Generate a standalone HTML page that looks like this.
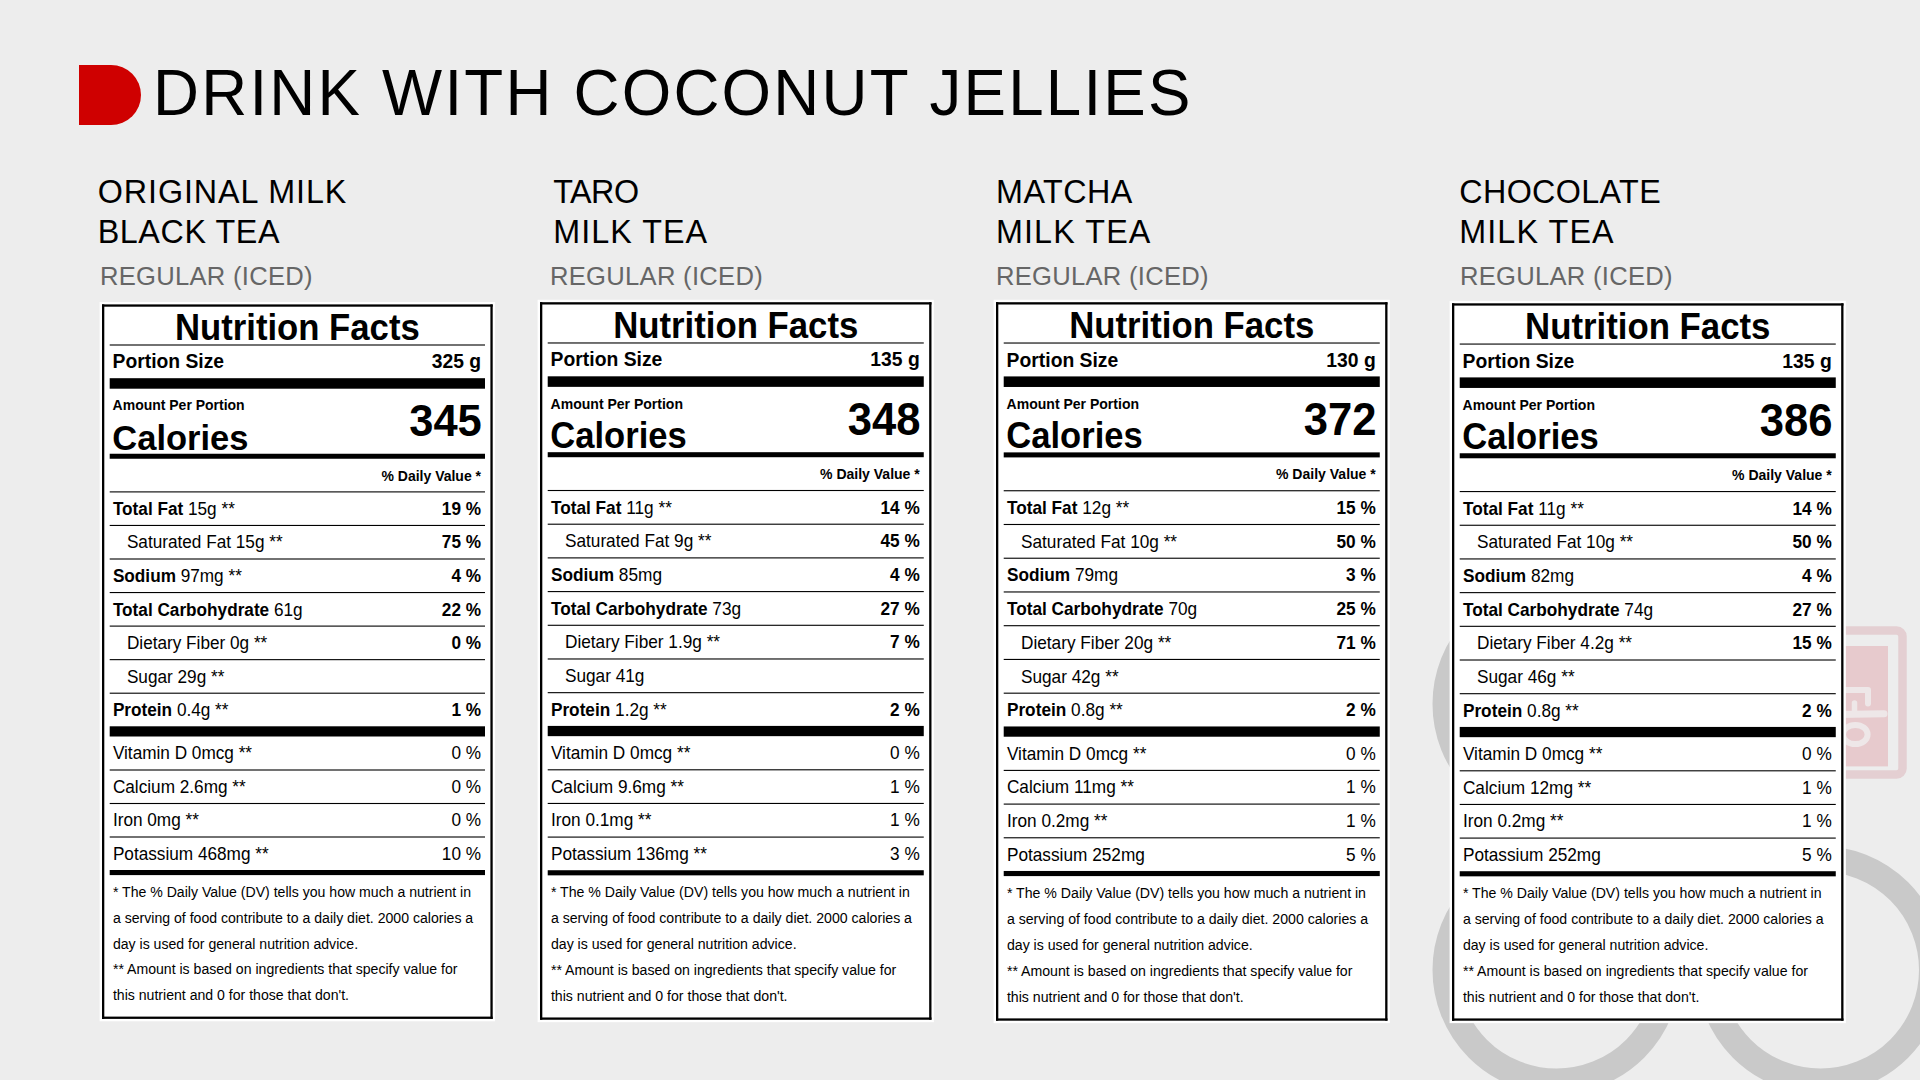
<!DOCTYPE html>
<html><head><meta charset="utf-8"><title>Drink with Coconut Jellies</title>
<style>
html,body{margin:0;padding:0;background:#ededed;width:1920px;height:1080px;overflow:hidden}
svg{display:block;font-family:"Liberation Sans",sans-serif}
</style></head><body>
<svg width="1920" height="1080" viewBox="0 0 1920 1080">
<rect width="1920" height="1080" fill="#ededed"/>
<circle cx="1556.5" cy="704" r="111.25" fill="none" stroke="#c9c9c9" stroke-width="25.5"/><circle cx="1556.5" cy="970" r="111.25" fill="none" stroke="#c9c9c9" stroke-width="25.5"/><circle cx="1820.5" cy="970" r="111.25" fill="none" stroke="#c9c9c9" stroke-width="25.5"/><rect x="1749" y="630.5" width="153.5" height="144" rx="6" fill="none" stroke="#e4cfd2" stroke-width="8.5"/><rect x="1757" y="646" width="131" height="120.4" fill="#e7cacd"/><g fill="none" stroke="#eee7e8" stroke-linecap="round" stroke-linejoin="round"><path d="M1838 690 H1868 V703.5" stroke-width="6"/><path d="M1854.5 703 V712" stroke-width="5.5"/><path d="M1838 714.5 L1884 713.8" stroke-width="7"/><ellipse cx="1855.3" cy="734.5" rx="12.3" ry="9.6" stroke-width="6"/></g><path d="M79 65 H111 A30 30 0 0 1 111 125 H79 Z" fill="#cf0000"/><text transform="translate(153.1,114.6) scale(1,1.015)" font-size="63.7" fill="#000" letter-spacing="2.2">DRINK WITH COCONUT JELLIES</text><text x="97.7" y="202.8" font-size="32.3" fill="#000" letter-spacing="0.93">ORIGINAL MILK</text><text x="97.7" y="243.0" font-size="32.3" fill="#000" letter-spacing="0.59">BLACK TEA</text><text x="99.9" y="284.8" font-size="25.6" fill="#666" letter-spacing="0.28">REGULAR (ICED)</text><text x="553.3" y="202.8" font-size="32.3" fill="#000" letter-spacing="-0.53">TARO</text><text x="553.3" y="243.0" font-size="32.3" fill="#000" letter-spacing="1.03">MILK TEA</text><text x="550.0" y="284.8" font-size="25.6" fill="#666" letter-spacing="0.28">REGULAR (ICED)</text><text x="996.05" y="202.8" font-size="32.3" fill="#000" letter-spacing="0.44">MATCHA</text><text x="996.05" y="243.0" font-size="32.3" fill="#000" letter-spacing="1.1">MILK TEA</text><text x="995.9" y="284.8" font-size="25.6" fill="#666" letter-spacing="0.28">REGULAR (ICED)</text><text x="1459.3" y="202.8" font-size="32.3" fill="#000" letter-spacing="0.35">CHOCOLATE</text><text x="1459.3" y="243.0" font-size="32.3" fill="#000" letter-spacing="1.1">MILK TEA</text><text x="1459.9" y="284.8" font-size="25.6" fill="#666" letter-spacing="0.28">REGULAR (ICED)</text><g transform="translate(102,304.4) scale(1.0,1.0) translate(-102,-304.4)"><rect x="99.60" y="302.00" width="395.50" height="719.30" fill="#fff"/><rect x="102.00" y="304.40" width="390.70" height="2.30" fill="#000"/><rect x="102.00" y="1016.60" width="390.70" height="2.30" fill="#000"/><rect x="102.00" y="304.40" width="2.30" height="714.50" fill="#000"/><rect x="490.40" y="304.40" width="2.30" height="714.50" fill="#000"/><text transform="translate(297.35,340.20) scale(1,1.04)" font-size="34.7" font-weight="bold" text-anchor="middle" fill="#000">Nutrition Facts</text><rect x="109.70" y="344.45" width="375.30" height="1.10" fill="#000"/><text transform="translate(112.60,368.40) scale(1,1.04)" font-size="19.3" font-weight="bold" text-anchor="start" fill="#000">Portion Size</text><text transform="translate(481.00,368.40) scale(1,1.04)" font-size="19.3" font-weight="bold" text-anchor="end" fill="#000">325 g</text><rect x="109.70" y="378.20" width="375.30" height="10.50" fill="#000"/><text transform="translate(112.60,410.30) scale(1,1.04)" font-size="14" font-weight="bold" text-anchor="start" fill="#000">Amount Per Portion</text><text transform="translate(112.30,449.80) scale(1,1.04)" font-size="34.5" font-weight="bold" text-anchor="start" fill="#000">Calories</text><text transform="translate(481.80,436.30) scale(1,1.04)" font-size="43.5" font-weight="bold" text-anchor="end" fill="#000">345</text><rect x="109.70" y="453.75" width="375.30" height="5.00" fill="#000"/><text transform="translate(481.00,480.50) scale(1,1.04)" font-size="14" font-weight="bold" text-anchor="end" fill="#000">% Daily Value *</text><rect x="109.70" y="491.35" width="375.30" height="1.10" fill="#000"/><rect x="109.70" y="524.90" width="375.30" height="1.10" fill="#000"/><rect x="109.70" y="558.45" width="375.30" height="1.10" fill="#000"/><rect x="109.70" y="592.00" width="375.30" height="1.10" fill="#000"/><rect x="109.70" y="625.55" width="375.30" height="1.10" fill="#000"/><rect x="109.70" y="659.10" width="375.30" height="1.10" fill="#000"/><rect x="109.70" y="692.65" width="375.30" height="1.10" fill="#000"/><text transform="translate(112.90,514.90) scale(1,1.04)" font-size="17.2" font-weight="normal" text-anchor="start" fill="#000"><tspan font-weight="bold">Total Fat</tspan> 15g **</text><text transform="translate(481.00,514.90) scale(1,1.04)" font-size="17.2" font-weight="bold" text-anchor="end" fill="#000">19 %</text><text transform="translate(126.90,548.45) scale(1,1.04)" font-size="17.2" font-weight="normal" text-anchor="start" fill="#000">Saturated Fat 15g **</text><text transform="translate(481.00,548.45) scale(1,1.04)" font-size="17.2" font-weight="bold" text-anchor="end" fill="#000">75 %</text><text transform="translate(112.90,582.00) scale(1,1.04)" font-size="17.2" font-weight="normal" text-anchor="start" fill="#000"><tspan font-weight="bold">Sodium</tspan> 97mg **</text><text transform="translate(481.00,582.00) scale(1,1.04)" font-size="17.2" font-weight="bold" text-anchor="end" fill="#000">4 %</text><text transform="translate(112.90,615.55) scale(1,1.04)" font-size="17.2" font-weight="normal" text-anchor="start" fill="#000"><tspan font-weight="bold">Total Carbohydrate</tspan> 61g</text><text transform="translate(481.00,615.55) scale(1,1.04)" font-size="17.2" font-weight="bold" text-anchor="end" fill="#000">22 %</text><text transform="translate(126.90,649.10) scale(1,1.04)" font-size="17.2" font-weight="normal" text-anchor="start" fill="#000">Dietary Fiber 0g **</text><text transform="translate(481.00,649.10) scale(1,1.04)" font-size="17.2" font-weight="bold" text-anchor="end" fill="#000">0 %</text><text transform="translate(126.90,682.65) scale(1,1.04)" font-size="17.2" font-weight="normal" text-anchor="start" fill="#000">Sugar 29g **</text><text transform="translate(112.90,716.20) scale(1,1.04)" font-size="17.2" font-weight="normal" text-anchor="start" fill="#000"><tspan font-weight="bold">Protein</tspan> 0.4g **</text><text transform="translate(481.00,716.20) scale(1,1.04)" font-size="17.2" font-weight="bold" text-anchor="end" fill="#000">1 %</text><rect x="109.70" y="726.30" width="375.30" height="10.20" fill="#000"/><rect x="109.70" y="769.45" width="375.30" height="1.10" fill="#000"/><rect x="109.70" y="802.95" width="375.30" height="1.10" fill="#000"/><rect x="109.70" y="836.45" width="375.30" height="1.10" fill="#000"/><text transform="translate(112.90,759.20) scale(1,1.04)" font-size="17.2" font-weight="normal" text-anchor="start" fill="#000">Vitamin D 0mcg **</text><text transform="translate(481.00,759.20) scale(1,1.04)" font-size="17.2" font-weight="normal" text-anchor="end" fill="#000">0 %</text><text transform="translate(112.90,792.70) scale(1,1.04)" font-size="17.2" font-weight="normal" text-anchor="start" fill="#000">Calcium 2.6mg **</text><text transform="translate(481.00,792.70) scale(1,1.04)" font-size="17.2" font-weight="normal" text-anchor="end" fill="#000">0 %</text><text transform="translate(112.90,826.20) scale(1,1.04)" font-size="17.2" font-weight="normal" text-anchor="start" fill="#000">Iron 0mg **</text><text transform="translate(481.00,826.20) scale(1,1.04)" font-size="17.2" font-weight="normal" text-anchor="end" fill="#000">0 %</text><text transform="translate(112.90,859.80) scale(1,1.04)" font-size="17.2" font-weight="normal" text-anchor="start" fill="#000">Potassium 468mg **</text><text transform="translate(481.00,859.80) scale(1,1.04)" font-size="17.2" font-weight="normal" text-anchor="end" fill="#000">10 %</text><rect x="109.70" y="870.00" width="375.30" height="5.10" fill="#000"/><text transform="translate(112.90,897.00) scale(1,1.04)" font-size="14.1" font-weight="normal" text-anchor="start" fill="#000">* The % Daily Value (DV) tells you how much a nutrient in</text><text transform="translate(112.90,922.70) scale(1,1.04)" font-size="14.1" font-weight="normal" text-anchor="start" fill="#000">a serving of food contribute to a daily diet. 2000 calories a</text><text transform="translate(112.90,948.70) scale(1,1.04)" font-size="14.1" font-weight="normal" text-anchor="start" fill="#000">day is used for general nutrition advice.</text><text transform="translate(112.90,974.40) scale(1,1.04)" font-size="14.1" font-weight="normal" text-anchor="start" fill="#000">** Amount is based on ingredients that specify value for</text><text transform="translate(112.90,1000.10) scale(1,1.04)" font-size="14.1" font-weight="normal" text-anchor="start" fill="#000">this nutrient and 0 for those that don&#x27;t.</text></g><g transform="translate(540,302.2) scale(1.002,1.0043) translate(-102,-304.4)"><rect x="99.60" y="302.00" width="395.50" height="719.30" fill="#fff"/><rect x="102.00" y="304.40" width="390.70" height="2.30" fill="#000"/><rect x="102.00" y="1016.60" width="390.70" height="2.30" fill="#000"/><rect x="102.00" y="304.40" width="2.30" height="714.50" fill="#000"/><rect x="490.40" y="304.40" width="2.30" height="714.50" fill="#000"/><text transform="translate(297.35,340.20) scale(1,1.04)" font-size="34.7" font-weight="bold" text-anchor="middle" fill="#000">Nutrition Facts</text><rect x="109.70" y="344.45" width="375.30" height="1.10" fill="#000"/><text transform="translate(112.60,368.40) scale(1,1.04)" font-size="19.3" font-weight="bold" text-anchor="start" fill="#000">Portion Size</text><text transform="translate(481.00,368.40) scale(1,1.04)" font-size="19.3" font-weight="bold" text-anchor="end" fill="#000">135 g</text><rect x="109.70" y="378.20" width="375.30" height="10.50" fill="#000"/><text transform="translate(112.60,410.30) scale(1,1.04)" font-size="14" font-weight="bold" text-anchor="start" fill="#000">Amount Per Portion</text><text transform="translate(112.30,449.80) scale(1,1.04)" font-size="34.5" font-weight="bold" text-anchor="start" fill="#000">Calories</text><text transform="translate(481.80,436.30) scale(1,1.04)" font-size="43.5" font-weight="bold" text-anchor="end" fill="#000">348</text><rect x="109.70" y="453.75" width="375.30" height="5.00" fill="#000"/><text transform="translate(481.00,480.50) scale(1,1.04)" font-size="14" font-weight="bold" text-anchor="end" fill="#000">% Daily Value *</text><rect x="109.70" y="491.35" width="375.30" height="1.10" fill="#000"/><rect x="109.70" y="524.90" width="375.30" height="1.10" fill="#000"/><rect x="109.70" y="558.45" width="375.30" height="1.10" fill="#000"/><rect x="109.70" y="592.00" width="375.30" height="1.10" fill="#000"/><rect x="109.70" y="625.55" width="375.30" height="1.10" fill="#000"/><rect x="109.70" y="659.10" width="375.30" height="1.10" fill="#000"/><rect x="109.70" y="692.65" width="375.30" height="1.10" fill="#000"/><text transform="translate(112.90,514.90) scale(1,1.04)" font-size="17.2" font-weight="normal" text-anchor="start" fill="#000"><tspan font-weight="bold">Total Fat</tspan> 11g **</text><text transform="translate(481.00,514.90) scale(1,1.04)" font-size="17.2" font-weight="bold" text-anchor="end" fill="#000">14 %</text><text transform="translate(126.90,548.45) scale(1,1.04)" font-size="17.2" font-weight="normal" text-anchor="start" fill="#000">Saturated Fat 9g **</text><text transform="translate(481.00,548.45) scale(1,1.04)" font-size="17.2" font-weight="bold" text-anchor="end" fill="#000">45 %</text><text transform="translate(112.90,582.00) scale(1,1.04)" font-size="17.2" font-weight="normal" text-anchor="start" fill="#000"><tspan font-weight="bold">Sodium</tspan> 85mg</text><text transform="translate(481.00,582.00) scale(1,1.04)" font-size="17.2" font-weight="bold" text-anchor="end" fill="#000">4 %</text><text transform="translate(112.90,615.55) scale(1,1.04)" font-size="17.2" font-weight="normal" text-anchor="start" fill="#000"><tspan font-weight="bold">Total Carbohydrate</tspan> 73g</text><text transform="translate(481.00,615.55) scale(1,1.04)" font-size="17.2" font-weight="bold" text-anchor="end" fill="#000">27 %</text><text transform="translate(126.90,649.10) scale(1,1.04)" font-size="17.2" font-weight="normal" text-anchor="start" fill="#000">Dietary Fiber 1.9g **</text><text transform="translate(481.00,649.10) scale(1,1.04)" font-size="17.2" font-weight="bold" text-anchor="end" fill="#000">7 %</text><text transform="translate(126.90,682.65) scale(1,1.04)" font-size="17.2" font-weight="normal" text-anchor="start" fill="#000">Sugar 41g</text><text transform="translate(112.90,716.20) scale(1,1.04)" font-size="17.2" font-weight="normal" text-anchor="start" fill="#000"><tspan font-weight="bold">Protein</tspan> 1.2g **</text><text transform="translate(481.00,716.20) scale(1,1.04)" font-size="17.2" font-weight="bold" text-anchor="end" fill="#000">2 %</text><rect x="109.70" y="726.30" width="375.30" height="10.20" fill="#000"/><rect x="109.70" y="769.45" width="375.30" height="1.10" fill="#000"/><rect x="109.70" y="802.95" width="375.30" height="1.10" fill="#000"/><rect x="109.70" y="836.45" width="375.30" height="1.10" fill="#000"/><text transform="translate(112.90,759.20) scale(1,1.04)" font-size="17.2" font-weight="normal" text-anchor="start" fill="#000">Vitamin D 0mcg **</text><text transform="translate(481.00,759.20) scale(1,1.04)" font-size="17.2" font-weight="normal" text-anchor="end" fill="#000">0 %</text><text transform="translate(112.90,792.70) scale(1,1.04)" font-size="17.2" font-weight="normal" text-anchor="start" fill="#000">Calcium 9.6mg **</text><text transform="translate(481.00,792.70) scale(1,1.04)" font-size="17.2" font-weight="normal" text-anchor="end" fill="#000">1 %</text><text transform="translate(112.90,826.20) scale(1,1.04)" font-size="17.2" font-weight="normal" text-anchor="start" fill="#000">Iron 0.1mg **</text><text transform="translate(481.00,826.20) scale(1,1.04)" font-size="17.2" font-weight="normal" text-anchor="end" fill="#000">1 %</text><text transform="translate(112.90,859.80) scale(1,1.04)" font-size="17.2" font-weight="normal" text-anchor="start" fill="#000">Potassium 136mg **</text><text transform="translate(481.00,859.80) scale(1,1.04)" font-size="17.2" font-weight="normal" text-anchor="end" fill="#000">3 %</text><rect x="109.70" y="870.00" width="375.30" height="5.10" fill="#000"/><text transform="translate(112.90,897.00) scale(1,1.04)" font-size="14.1" font-weight="normal" text-anchor="start" fill="#000">* The % Daily Value (DV) tells you how much a nutrient in</text><text transform="translate(112.90,922.70) scale(1,1.04)" font-size="14.1" font-weight="normal" text-anchor="start" fill="#000">a serving of food contribute to a daily diet. 2000 calories a</text><text transform="translate(112.90,948.70) scale(1,1.04)" font-size="14.1" font-weight="normal" text-anchor="start" fill="#000">day is used for general nutrition advice.</text><text transform="translate(112.90,974.40) scale(1,1.04)" font-size="14.1" font-weight="normal" text-anchor="start" fill="#000">** Amount is based on ingredients that specify value for</text><text transform="translate(112.90,1000.10) scale(1,1.04)" font-size="14.1" font-weight="normal" text-anchor="start" fill="#000">this nutrient and 0 for those that don&#x27;t.</text></g><g transform="translate(996,302.2) scale(1.002,1.0056) translate(-102,-304.4)"><rect x="99.60" y="302.00" width="395.50" height="719.30" fill="#fff"/><rect x="102.00" y="304.40" width="390.70" height="2.30" fill="#000"/><rect x="102.00" y="1016.60" width="390.70" height="2.30" fill="#000"/><rect x="102.00" y="304.40" width="2.30" height="714.50" fill="#000"/><rect x="490.40" y="304.40" width="2.30" height="714.50" fill="#000"/><text transform="translate(297.35,340.20) scale(1,1.04)" font-size="34.7" font-weight="bold" text-anchor="middle" fill="#000">Nutrition Facts</text><rect x="109.70" y="344.45" width="375.30" height="1.10" fill="#000"/><text transform="translate(112.60,368.40) scale(1,1.04)" font-size="19.3" font-weight="bold" text-anchor="start" fill="#000">Portion Size</text><text transform="translate(481.00,368.40) scale(1,1.04)" font-size="19.3" font-weight="bold" text-anchor="end" fill="#000">130 g</text><rect x="109.70" y="378.20" width="375.30" height="10.50" fill="#000"/><text transform="translate(112.60,410.30) scale(1,1.04)" font-size="14" font-weight="bold" text-anchor="start" fill="#000">Amount Per Portion</text><text transform="translate(112.30,449.80) scale(1,1.04)" font-size="34.5" font-weight="bold" text-anchor="start" fill="#000">Calories</text><text transform="translate(481.80,436.30) scale(1,1.04)" font-size="43.5" font-weight="bold" text-anchor="end" fill="#000">372</text><rect x="109.70" y="453.75" width="375.30" height="5.00" fill="#000"/><text transform="translate(481.00,480.50) scale(1,1.04)" font-size="14" font-weight="bold" text-anchor="end" fill="#000">% Daily Value *</text><rect x="109.70" y="491.35" width="375.30" height="1.10" fill="#000"/><rect x="109.70" y="524.90" width="375.30" height="1.10" fill="#000"/><rect x="109.70" y="558.45" width="375.30" height="1.10" fill="#000"/><rect x="109.70" y="592.00" width="375.30" height="1.10" fill="#000"/><rect x="109.70" y="625.55" width="375.30" height="1.10" fill="#000"/><rect x="109.70" y="659.10" width="375.30" height="1.10" fill="#000"/><rect x="109.70" y="692.65" width="375.30" height="1.10" fill="#000"/><text transform="translate(112.90,514.90) scale(1,1.04)" font-size="17.2" font-weight="normal" text-anchor="start" fill="#000"><tspan font-weight="bold">Total Fat</tspan> 12g **</text><text transform="translate(481.00,514.90) scale(1,1.04)" font-size="17.2" font-weight="bold" text-anchor="end" fill="#000">15 %</text><text transform="translate(126.90,548.45) scale(1,1.04)" font-size="17.2" font-weight="normal" text-anchor="start" fill="#000">Saturated Fat 10g **</text><text transform="translate(481.00,548.45) scale(1,1.04)" font-size="17.2" font-weight="bold" text-anchor="end" fill="#000">50 %</text><text transform="translate(112.90,582.00) scale(1,1.04)" font-size="17.2" font-weight="normal" text-anchor="start" fill="#000"><tspan font-weight="bold">Sodium</tspan> 79mg</text><text transform="translate(481.00,582.00) scale(1,1.04)" font-size="17.2" font-weight="bold" text-anchor="end" fill="#000">3 %</text><text transform="translate(112.90,615.55) scale(1,1.04)" font-size="17.2" font-weight="normal" text-anchor="start" fill="#000"><tspan font-weight="bold">Total Carbohydrate</tspan> 70g</text><text transform="translate(481.00,615.55) scale(1,1.04)" font-size="17.2" font-weight="bold" text-anchor="end" fill="#000">25 %</text><text transform="translate(126.90,649.10) scale(1,1.04)" font-size="17.2" font-weight="normal" text-anchor="start" fill="#000">Dietary Fiber 20g **</text><text transform="translate(481.00,649.10) scale(1,1.04)" font-size="17.2" font-weight="bold" text-anchor="end" fill="#000">71 %</text><text transform="translate(126.90,682.65) scale(1,1.04)" font-size="17.2" font-weight="normal" text-anchor="start" fill="#000">Sugar 42g **</text><text transform="translate(112.90,716.20) scale(1,1.04)" font-size="17.2" font-weight="normal" text-anchor="start" fill="#000"><tspan font-weight="bold">Protein</tspan> 0.8g **</text><text transform="translate(481.00,716.20) scale(1,1.04)" font-size="17.2" font-weight="bold" text-anchor="end" fill="#000">2 %</text><rect x="109.70" y="726.30" width="375.30" height="10.20" fill="#000"/><rect x="109.70" y="769.45" width="375.30" height="1.10" fill="#000"/><rect x="109.70" y="802.95" width="375.30" height="1.10" fill="#000"/><rect x="109.70" y="836.45" width="375.30" height="1.10" fill="#000"/><text transform="translate(112.90,759.20) scale(1,1.04)" font-size="17.2" font-weight="normal" text-anchor="start" fill="#000">Vitamin D 0mcg **</text><text transform="translate(481.00,759.20) scale(1,1.04)" font-size="17.2" font-weight="normal" text-anchor="end" fill="#000">0 %</text><text transform="translate(112.90,792.70) scale(1,1.04)" font-size="17.2" font-weight="normal" text-anchor="start" fill="#000">Calcium 11mg **</text><text transform="translate(481.00,792.70) scale(1,1.04)" font-size="17.2" font-weight="normal" text-anchor="end" fill="#000">1 %</text><text transform="translate(112.90,826.20) scale(1,1.04)" font-size="17.2" font-weight="normal" text-anchor="start" fill="#000">Iron 0.2mg **</text><text transform="translate(481.00,826.20) scale(1,1.04)" font-size="17.2" font-weight="normal" text-anchor="end" fill="#000">1 %</text><text transform="translate(112.90,859.80) scale(1,1.04)" font-size="17.2" font-weight="normal" text-anchor="start" fill="#000">Potassium 252mg</text><text transform="translate(481.00,859.80) scale(1,1.04)" font-size="17.2" font-weight="normal" text-anchor="end" fill="#000">5 %</text><rect x="109.70" y="870.00" width="375.30" height="5.10" fill="#000"/><text transform="translate(112.90,897.00) scale(1,1.04)" font-size="14.1" font-weight="normal" text-anchor="start" fill="#000">* The % Daily Value (DV) tells you how much a nutrient in</text><text transform="translate(112.90,922.70) scale(1,1.04)" font-size="14.1" font-weight="normal" text-anchor="start" fill="#000">a serving of food contribute to a daily diet. 2000 calories a</text><text transform="translate(112.90,948.70) scale(1,1.04)" font-size="14.1" font-weight="normal" text-anchor="start" fill="#000">day is used for general nutrition advice.</text><text transform="translate(112.90,974.40) scale(1,1.04)" font-size="14.1" font-weight="normal" text-anchor="start" fill="#000">** Amount is based on ingredients that specify value for</text><text transform="translate(112.90,1000.10) scale(1,1.04)" font-size="14.1" font-weight="normal" text-anchor="start" fill="#000">this nutrient and 0 for those that don&#x27;t.</text></g><g transform="translate(1452,303.3) scale(1.002,1.0041) translate(-102,-304.4)"><rect x="99.60" y="302.00" width="395.50" height="719.30" fill="#fff"/><rect x="102.00" y="304.40" width="390.70" height="2.30" fill="#000"/><rect x="102.00" y="1016.60" width="390.70" height="2.30" fill="#000"/><rect x="102.00" y="304.40" width="2.30" height="714.50" fill="#000"/><rect x="490.40" y="304.40" width="2.30" height="714.50" fill="#000"/><text transform="translate(297.35,340.20) scale(1,1.04)" font-size="34.7" font-weight="bold" text-anchor="middle" fill="#000">Nutrition Facts</text><rect x="109.70" y="344.45" width="375.30" height="1.10" fill="#000"/><text transform="translate(112.60,368.40) scale(1,1.04)" font-size="19.3" font-weight="bold" text-anchor="start" fill="#000">Portion Size</text><text transform="translate(481.00,368.40) scale(1,1.04)" font-size="19.3" font-weight="bold" text-anchor="end" fill="#000">135 g</text><rect x="109.70" y="378.20" width="375.30" height="10.50" fill="#000"/><text transform="translate(112.60,410.30) scale(1,1.04)" font-size="14" font-weight="bold" text-anchor="start" fill="#000">Amount Per Portion</text><text transform="translate(112.30,449.80) scale(1,1.04)" font-size="34.5" font-weight="bold" text-anchor="start" fill="#000">Calories</text><text transform="translate(481.80,436.30) scale(1,1.04)" font-size="43.5" font-weight="bold" text-anchor="end" fill="#000">386</text><rect x="109.70" y="453.75" width="375.30" height="5.00" fill="#000"/><text transform="translate(481.00,480.50) scale(1,1.04)" font-size="14" font-weight="bold" text-anchor="end" fill="#000">% Daily Value *</text><rect x="109.70" y="491.35" width="375.30" height="1.10" fill="#000"/><rect x="109.70" y="524.90" width="375.30" height="1.10" fill="#000"/><rect x="109.70" y="558.45" width="375.30" height="1.10" fill="#000"/><rect x="109.70" y="592.00" width="375.30" height="1.10" fill="#000"/><rect x="109.70" y="625.55" width="375.30" height="1.10" fill="#000"/><rect x="109.70" y="659.10" width="375.30" height="1.10" fill="#000"/><rect x="109.70" y="692.65" width="375.30" height="1.10" fill="#000"/><text transform="translate(112.90,514.90) scale(1,1.04)" font-size="17.2" font-weight="normal" text-anchor="start" fill="#000"><tspan font-weight="bold">Total Fat</tspan> 11g **</text><text transform="translate(481.00,514.90) scale(1,1.04)" font-size="17.2" font-weight="bold" text-anchor="end" fill="#000">14 %</text><text transform="translate(126.90,548.45) scale(1,1.04)" font-size="17.2" font-weight="normal" text-anchor="start" fill="#000">Saturated Fat 10g **</text><text transform="translate(481.00,548.45) scale(1,1.04)" font-size="17.2" font-weight="bold" text-anchor="end" fill="#000">50 %</text><text transform="translate(112.90,582.00) scale(1,1.04)" font-size="17.2" font-weight="normal" text-anchor="start" fill="#000"><tspan font-weight="bold">Sodium</tspan> 82mg</text><text transform="translate(481.00,582.00) scale(1,1.04)" font-size="17.2" font-weight="bold" text-anchor="end" fill="#000">4 %</text><text transform="translate(112.90,615.55) scale(1,1.04)" font-size="17.2" font-weight="normal" text-anchor="start" fill="#000"><tspan font-weight="bold">Total Carbohydrate</tspan> 74g</text><text transform="translate(481.00,615.55) scale(1,1.04)" font-size="17.2" font-weight="bold" text-anchor="end" fill="#000">27 %</text><text transform="translate(126.90,649.10) scale(1,1.04)" font-size="17.2" font-weight="normal" text-anchor="start" fill="#000">Dietary Fiber 4.2g **</text><text transform="translate(481.00,649.10) scale(1,1.04)" font-size="17.2" font-weight="bold" text-anchor="end" fill="#000">15 %</text><text transform="translate(126.90,682.65) scale(1,1.04)" font-size="17.2" font-weight="normal" text-anchor="start" fill="#000">Sugar 46g **</text><text transform="translate(112.90,716.20) scale(1,1.04)" font-size="17.2" font-weight="normal" text-anchor="start" fill="#000"><tspan font-weight="bold">Protein</tspan> 0.8g **</text><text transform="translate(481.00,716.20) scale(1,1.04)" font-size="17.2" font-weight="bold" text-anchor="end" fill="#000">2 %</text><rect x="109.70" y="726.30" width="375.30" height="10.20" fill="#000"/><rect x="109.70" y="769.45" width="375.30" height="1.10" fill="#000"/><rect x="109.70" y="802.95" width="375.30" height="1.10" fill="#000"/><rect x="109.70" y="836.45" width="375.30" height="1.10" fill="#000"/><text transform="translate(112.90,759.20) scale(1,1.04)" font-size="17.2" font-weight="normal" text-anchor="start" fill="#000">Vitamin D 0mcg **</text><text transform="translate(481.00,759.20) scale(1,1.04)" font-size="17.2" font-weight="normal" text-anchor="end" fill="#000">0 %</text><text transform="translate(112.90,792.70) scale(1,1.04)" font-size="17.2" font-weight="normal" text-anchor="start" fill="#000">Calcium 12mg **</text><text transform="translate(481.00,792.70) scale(1,1.04)" font-size="17.2" font-weight="normal" text-anchor="end" fill="#000">1 %</text><text transform="translate(112.90,826.20) scale(1,1.04)" font-size="17.2" font-weight="normal" text-anchor="start" fill="#000">Iron 0.2mg **</text><text transform="translate(481.00,826.20) scale(1,1.04)" font-size="17.2" font-weight="normal" text-anchor="end" fill="#000">1 %</text><text transform="translate(112.90,859.80) scale(1,1.04)" font-size="17.2" font-weight="normal" text-anchor="start" fill="#000">Potassium 252mg</text><text transform="translate(481.00,859.80) scale(1,1.04)" font-size="17.2" font-weight="normal" text-anchor="end" fill="#000">5 %</text><rect x="109.70" y="870.00" width="375.30" height="5.10" fill="#000"/><text transform="translate(112.90,897.00) scale(1,1.04)" font-size="14.1" font-weight="normal" text-anchor="start" fill="#000">* The % Daily Value (DV) tells you how much a nutrient in</text><text transform="translate(112.90,922.70) scale(1,1.04)" font-size="14.1" font-weight="normal" text-anchor="start" fill="#000">a serving of food contribute to a daily diet. 2000 calories a</text><text transform="translate(112.90,948.70) scale(1,1.04)" font-size="14.1" font-weight="normal" text-anchor="start" fill="#000">day is used for general nutrition advice.</text><text transform="translate(112.90,974.40) scale(1,1.04)" font-size="14.1" font-weight="normal" text-anchor="start" fill="#000">** Amount is based on ingredients that specify value for</text><text transform="translate(112.90,1000.10) scale(1,1.04)" font-size="14.1" font-weight="normal" text-anchor="start" fill="#000">this nutrient and 0 for those that don&#x27;t.</text></g>
</svg>
</body></html>
